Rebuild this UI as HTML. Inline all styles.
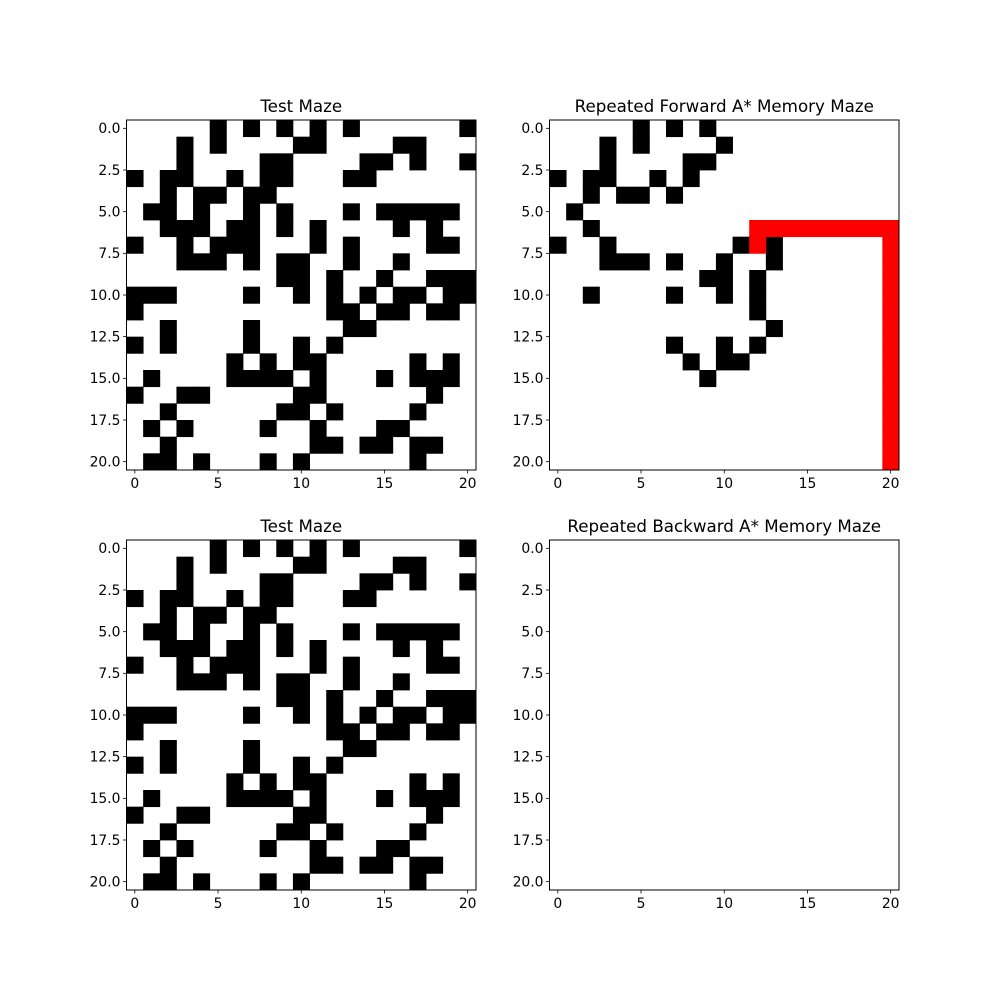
<!DOCTYPE html>
<html><head><meta charset="utf-8"><style>
body{margin:0;background:#fff;}
svg text{font-family:"DejaVu Sans","Liberation Sans",sans-serif;fill:#000;}
</style></head><body>
<svg id="fig" width="1000" height="1000" viewBox="0 0 1000 1000"></svg>
<script>
// black cells per row (column indices), test maze
const testMazeRows = [
[5,7,9,11,13,20],[3,5,10,11,16,17],[3,8,9,14,15,17,20],[0,2,3,6,8,9,13,14],[2,4,5,7,8],
[1,2,4,7,9,13,15,16,17,18,19],[2,3,4,6,7,9,11,16,18],[0,3,5,6,7,11,13,18,19],[3,4,5,7,9,10,13,16],[9,10,12,15,18,19,20],
[0,1,2,7,10,12,14,16,17,19,20],[0,12,13,15,16,18,19],[2,7,13,14],[0,2,7,10,12],[6,8,10,11,17,19],
[1,6,7,8,9,11,15,17,18,19],[0,3,4,10,11,18],[2,9,10,12,17],[1,3,8,11,15,16],[2,11,12,14,15,17,18],[1,2,4,8,10,17]
];
// forward memory maze: black cells per row
const fwdBlackRows = [
[5,7,9],[3,5,10],[3,8,9],[0,2,3,6,8],[2,4,5,7],[1],[2],[0,3,11,13],[3,4,5,7,10,13],[9,10,12],
[2,7,10,12],[12],[13],[7,10,12],[8,10,11],[9],[],[],[],[],[]
];
// red path cells [row, col]
const fwdPathCells = [[6,12],[6,13],[6,14],[6,15],[6,16],[6,17],[6,18],[6,19],[6,20],[7,12],
[7,20],[8,20],[9,20],[10,20],[11,20],[12,20],[13,20],[14,20],[15,20],[16,20],[17,20],[18,20],[19,20],[20,20]];
const bwdBlackRows = Array.from({length:21},()=>[]);
const yTicks = [0,2.5,5,7.5,10,12.5,15,17.5,20];
const yTickLabels = ["0.0","2.5","5.0","7.5","10.0","12.5","15.0","17.5","20.0"];
const xTicks = [0,5,10,15,20];
const N = 21;

const NS="http://www.w3.org/2000/svg";
const svg=document.getElementById('fig');
function mk(tag,attrs,parent){const e=document.createElementNS(NS,tag);for(const k in attrs)e.setAttribute(k,attrs[k]);(parent||svg).appendChild(e);return e;}

function panel(x0,y0,title,blackRows,redCells,slug){
  const W=349.5,H=350;
  const g=mk('g',{});
  
  
  const cw=W/N,ch=H/N;
  const sx=v=>x0+(v+0.5)*cw, sy=v=>y0+(v+0.5)*ch;
  mk('rect',{x:x0,y:y0,width:W,height:H,fill:'#fff'},g);
  blackRows.forEach((cols,r)=>cols.forEach(c=>{
    const e=mk('rect',{x:sx(c)-cw/2,y:sy(r)-ch/2,width:cw+0.4,height:ch+0.4,fill:'#000'},g);
    
    
  }));
  redCells.forEach(([r,c])=>{
    const e=mk('rect',{x:sx(c)-cw/2,y:sy(r)-ch/2,width:cw+0.4,height:ch+0.4,fill:'#ff0000'},g);
    
    
  });
  const fr=mk('rect',{x:x0,y:y0,width:W,height:H,fill:'none',stroke:'#000','stroke-width':1},g);
  
  
  yTicks.forEach((v,i)=>{
    const y=sy(v);
    mk('line',{x1:x0,x2:x0-3.5,y1:y,y2:y,stroke:'#000','stroke-width':0.8},g);
    const t=mk('text',{x:x0-6,y:y+4.8,'font-size':13.9,'text-anchor':'end'},g);
    t.textContent=yTickLabels[i];
    
    
  });
  xTicks.forEach(v=>{
    const x=sx(v);
    mk('line',{x1:x,x2:x,y1:y0+H,y2:y0+H+3.5,stroke:'#000','stroke-width':0.8},g);
    const t=mk('text',{x:x,y:y0+H+18,'font-size':13.9,'text-anchor':'middle'},g);
    t.textContent=String(v);
    
    
  });
  const tt=mk('text',{x:x0+W/2,y:y0-8,'font-size':16.7,'text-anchor':'middle'},g);
  tt.textContent=title;
  
  
}
panel(126.5,120,'Test Maze',testMazeRows,[],'test-maze-top');
panel(549.5,120,'Repeated Forward A* Memory Maze',fwdBlackRows,fwdPathCells,'forward-memory-maze');
panel(126.5,540,'Test Maze',testMazeRows,[],'test-maze-bottom');
panel(549.5,540,'Repeated Backward A* Memory Maze',bwdBlackRows,[],'backward-memory-maze');
</script>
</body></html>
